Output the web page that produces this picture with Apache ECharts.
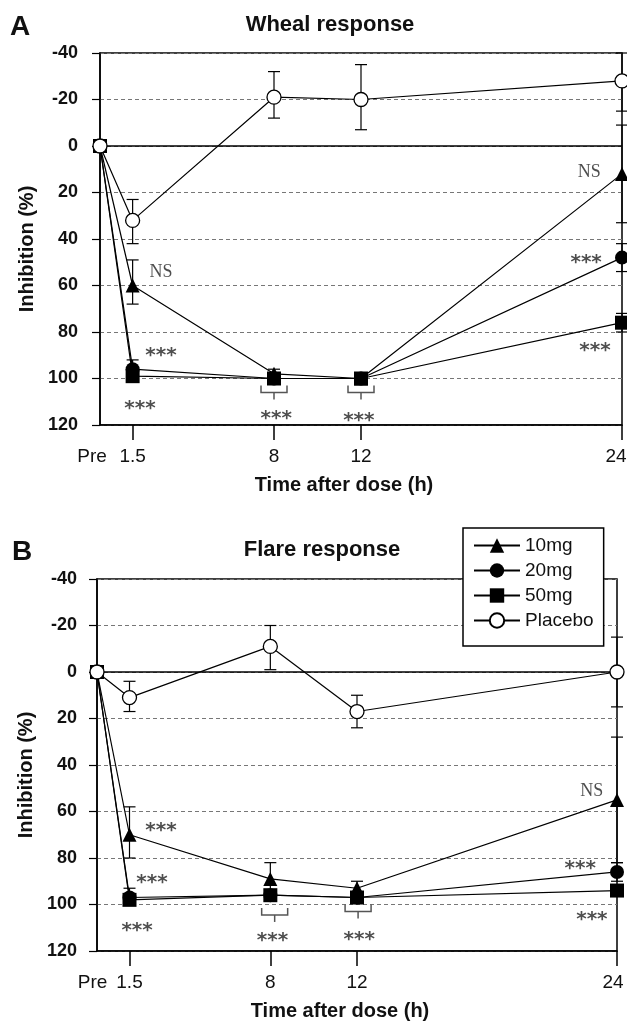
<!DOCTYPE html>
<html>
<head>
<meta charset="utf-8">
<script src="https://cdn.jsdelivr.net/npm/echarts@6/dist/echarts.min.js"></script>
<style>html,body{margin:0;padding:0;background:#fff;}#c{width:627px;height:1024px;}</style>
</head>
<body>
<div id="c"></div>
<script>
// ---- data ----
const timePoints = [0, 1.5, 8, 12, 24];
const xTickLabels = ['Pre', '1.5', '8', '12', '24'];
const seriesNames = ['10mg', '20mg', '50mg', 'Placebo'];
const panelTitles = ['Wheal response', 'Flare response'];
const panelLetters = ['A', 'B'];
const yAxisName = 'Inhibition (%)';
const xAxisName = 'Time after dose (h)';

// Wheal (panel A)
const wheal10 = [0, 60, 98, 100, 12];
const wheal20 = [0, 96, 100, 100, 48];
const wheal50 = [0, 99, 100, 100, 76];
const whealPlacebo = [0, 32, -21, -20, -28];
const whealErr10 = [null, [49, 68], [96, 100], [99, 101], [-9, 33]];
const whealErr20 = [null, [92, 99], [99, 101], [99, 101], [42, 54]];
const whealErr50 = [null, [98, 100], [99, 101], [99, 101], [72, 80]];
const whealErrPlacebo = [null, [23, 42], [-32, -12], [-35, -7], [-40, -15]];
const whealNotes = [[2.8, 54, 'NS'], [2.8, 88, '***'], [1.84, 111, '***'], [8.1, 115, '***'], [11.9, 116, '***'], [22.5, 11, 'NS'], [22.35, 48, '***'], [22.76, 86, '***']];
const whealBrackets = [[8, 106], [12, 106]];

// Flare (panel B)
const flare10 = [0, 70, 89, 93, 55];
const flare20 = [0, 97, 96, 97, 86];
const flare50 = [0, 98, 96, 97, 94];
const flarePlacebo = [0, 11, -11, 17, 0];
const flareErr10 = [null, [58, 80], [82, 96], [90, 96], [28, 82]];
const flareErr20 = [null, [93, 100], [94, 98], [95, 99], [82, 90]];
const flareErr50 = [null, [96, 100], [94, 98], [95, 99], [92, 96]];
const flareErrPlacebo = [null, [4, 17], [-20, -1], [10, 24], [-15, 15]];
const flareNotes = [[2.95, 66, '***'], [2.54, 88.6, '***'], [1.85, 109, '***'], [8.1, 113.5, '***'], [12.1, 113, '***'], [22.84, 51, 'NS'], [22.3, 82.6, '***'], [22.84, 104.5, '***']];
const flareBrackets = [[8.2, 104.5], [12.05, 103]];

const yMin = -40, yMax = 120, yStep = 20;

// ---- chart ----
const FONT = "'Liberation Sans', Arial, sans-serif";
const SERIF = "'Liberation Serif', 'Times New Roman', serif";
const STAR = "'DejaVu Sans', sans-serif";
const symbols = ['triangle', 'circle', 'rect', 'circle'];
const sizes = [14, 14, 14, 14];

function pairs(vals) { return vals.map((v, i) => [timePoints[i], v]); }
function errData(list) {
  const out = [];
  list.forEach(arr => arr.forEach((e, i) => { if (e) out.push([timePoints[i], e[0], e[1]]); }));
  return out;
}
function errRender(params, api) {
  const x = api.value(0), lo = api.value(1), hi = api.value(2);
  const p1 = api.coord([x, lo]), p2 = api.coord([x, hi]);
  const w = 6, st = { stroke: '#000', lineWidth: 1.2 };
  return { type: 'group', children: [
    { type: 'line', shape: { x1: p1[0], y1: p1[1], x2: p2[0], y2: p2[1] }, style: st },
    { type: 'line', shape: { x1: p1[0] - w, y1: p1[1], x2: p1[0] + w, y2: p1[1] }, style: st },
    { type: 'line', shape: { x1: p2[0] - w, y1: p2[1], x2: p2[0] + w, y2: p2[1] }, style: st }
  ]};
}
function bracketRender(params, api) {
  const p = api.coord([api.value(0), api.value(1)]);
  const w = 13, st = { stroke: '#555', lineWidth: 1.5, fill: null };
  return { type: 'group', children: [
    { type: 'polyline', shape: { points: [[p[0] - w, p[1] - 7], [p[0] - w, p[1]], [p[0] + w, p[1]], [p[0] + w, p[1] - 7]] }, style: st },
    { type: 'line', shape: { x1: p[0], y1: p[1], x2: p[0], y2: p[1] + 7 }, style: st }
  ]};
}

const grids = [
  { left: 100, top: 53, width: 522, height: 372 },
  { left: 97, top: 579, width: 520, height: 372 }
];
const panels = [
  { vals: [wheal10, wheal20, wheal50, whealPlacebo], errs: [whealErr10, whealErr20, whealErr50, whealErrPlacebo], notes: whealNotes, brackets: whealBrackets, preShift: 16, endShift: 12, yMargin: 22 },
  { vals: [flare10, flare20, flare50, flarePlacebo], errs: [flareErr10, flareErr20, flareErr50, flareErrPlacebo], notes: flareNotes, brackets: flareBrackets, preShift: 9, endShift: 8, yMargin: 20 }
];

const xAxes = [], yAxes = [], series = [];
panels.forEach((pn, k) => {
  xAxes.push({
    gridIndex: k, type: 'value', min: 0, max: 24,
    axisLine: { show: true, onZero: false, lineStyle: { color: '#000', width: 1.5 } },
    axisTick: { show: true, customValues: [1.5, 8, 12, 24], length: 15, lineStyle: { color: '#000', width: 1.5 } },
    axisLabel: {
      customValues: timePoints, margin: 22, fontSize: 19, color: '#111', fontFamily: FONT,
      formatter: v => {
        const i = timePoints.indexOf(v);
        if (i === 0) return '{pre|' + xTickLabels[0] + '}';
        if (i === timePoints.length - 1) return '{end|' + xTickLabels[i] + '}';
        return xTickLabels[i];
      },
      rich: {
        pre: { fontSize: 19, fontFamily: FONT, color: '#111', padding: [0, pn.preShift, 0, 0] },
        end: { fontSize: 19, fontFamily: FONT, color: '#111', padding: [0, pn.endShift, 0, 0] }
      }
    },
    splitLine: { show: false },
    name: xAxisName, nameLocation: 'middle', nameGap: 50,
    nameTextStyle: { fontSize: 20, fontWeight: 'bold', fontFamily: FONT, color: '#111', padding: [0, 34, 0, 0] }
  });
  yAxes.push({
    gridIndex: k, type: 'value', inverse: true, min: yMin, max: yMax, interval: yStep,
    axisLine: { show: true, lineStyle: { color: '#000', width: 1.5 } },
    axisTick: { show: true, length: 8, lineStyle: { color: '#000', width: 1.2 } },
    axisLabel: { margin: pn.yMargin, fontSize: 18, fontWeight: 'bold', fontFamily: FONT, color: '#111' },
    splitLine: { show: true, lineStyle: { color: '#777', type: [4, 3], width: 1 } },
    name: yAxisName, nameLocation: 'middle', nameGap: 58,
    nameTextStyle: { fontSize: 20, fontWeight: 'bold', fontFamily: FONT, color: '#111', padding: [0, 20, 0, 0] }
  });
  series.push({
    type: 'custom', xAxisIndex: k, yAxisIndex: k, renderItem: errRender, clip: false, silent: true, z: 1,
    encode: { x: 0, y: [1, 2] }, data: errData(pn.errs)
  });
  seriesNames.forEach((nm, s) => {
    const isPl = s === 3;
    const ser = {
      name: nm, type: 'line', xAxisIndex: k, yAxisIndex: k, clip: false, z: 2 + s,
      symbol: symbols[s], symbolSize: sizes[s], showSymbol: true,
      lineStyle: { color: '#000', width: 1.2 },
      itemStyle: isPl ? { color: '#fff', borderColor: '#000', borderWidth: 1.3 } : { color: '#000' },
      emphasis: { disabled: true },
      data: pairs(pn.vals[s])
    };
    if (s === 0) {
      ser.markLine = { silent: true, symbol: 'none', label: { show: false }, lineStyle: { color: '#000', type: 'solid', width: 1.5 }, data: [{ yAxis: 0 }], z: 1 };
    }
    series.push(ser);
  });
  series.push({
    type: 'custom', xAxisIndex: k, yAxisIndex: k, renderItem: bracketRender, clip: false, silent: true, z: 1,
    data: pn.brackets
  });
  series.push({
    type: 'scatter', xAxisIndex: k, yAxisIndex: k, symbolSize: 1, itemStyle: { color: 'rgba(0,0,0,0)' }, silent: true, z: 10,
    data: pn.notes,
    label: {
      show: true, position: 'inside',
      formatter: p => p.value[2] === 'NS' ? '{n|NS}' : '{s|' + p.value[2] + '}',
      rich: {
        n: { fontFamily: SERIF, fontSize: 18, color: '#222', padding: [2, 0, 0, 0] },
        s: { fontFamily: STAR, fontSize: 20, fontWeight: 'bold', color: '#222', padding: [10, 0, 0, 0] }
      }
    }
  });
});

const gridOpts = grids.map(g => Object.assign({ show: true, borderColor: '#000', borderWidth: 1.5, backgroundColor: 'transparent', containLabel: false, outerBoundsMode: 'none' }, g));

const graphicTexts = [
  { type: 'text', x: 10, y: 27, style: { text: panelLetters[0], font: "bold 28px " + FONT, fill: '#111', textVerticalAlign: 'middle' } },
  { type: 'text', x: 330, y: 25, style: { text: panelTitles[0], font: "bold 22px " + FONT, fill: '#111', textAlign: 'center', textVerticalAlign: 'middle' } },
  { type: 'text', x: 12, y: 552, style: { text: panelLetters[1], font: "bold 28px " + FONT, fill: '#111', textVerticalAlign: 'middle' } },
  { type: 'text', x: 322, y: 550, style: { text: panelTitles[1], font: "bold 22px " + FONT, fill: '#111', textAlign: 'center', textVerticalAlign: 'middle' } }
];

const chart = echarts.init(document.getElementById('c'), null, { renderer: 'canvas' });
chart.setOption({
  animation: false,
  backgroundColor: '#fff',
  grid: gridOpts,
  xAxis: xAxes,
  yAxis: yAxes,
  legend: {
    data: seriesNames, orient: 'vertical', left: 463, top: 528, z: 20,
    itemWidth: 46, itemHeight: 18, itemGap: 6,
    padding: [8, 10, 16, 10], backgroundColor: '#fff', borderColor: '#000', borderWidth: 1.5,
    textStyle: { fontSize: 19, fontFamily: FONT, color: '#111' },
    selectedMode: false
  },
  graphic: graphicTexts,
  series: series
});
</script>
</body>
</html>
